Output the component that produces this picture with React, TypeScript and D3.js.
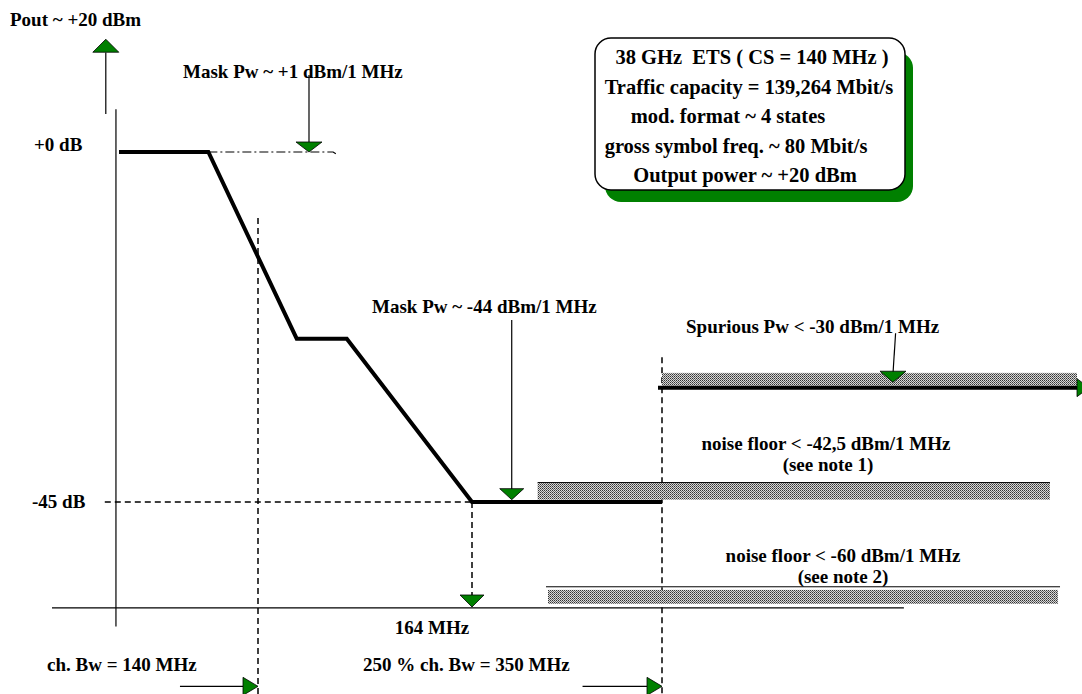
import * as d3 from "d3";

// frequency offset (MHz) -> the drawing is not to scale, so the x scale is piecewise
const xKnotsMHz = [-33, 0, 70, 164, 175, 350];
const levelKnotsDb = [0, -45];

// spectrum mask, relative level in dB
const maskFreq = [0, 45, 87, 109, 164, 175];
const maskLevel = [0, 0, -24, -24, -45, -45];

const spurFreq = [175, 350];
const spurLevel = -30.3;
const spurBandTop = -28.4;

const nf1Freq = [167.8, 338.6];
const nf1Band = [-42.5, -44.7];
const nf2Freq = [168.4, 342];
const nf2Line = -55.9;
const nf2Band = [-56.3, -58.1];

const boxLines = [
  "38 GHz  ETS ( CS = 140 MHz )",
  "Traffic capacity = 139,264 Mbit/s",
  "mod. format ~ 4 states",
  "gross symbol freq. ~ 80 Mbit/s",
  "Output power ~ +20 dBm",
];
const boxLineX = [752, 749, 728, 736, 745];

const W = 1082;
const H = 694;
const GREEN = "#008000";
const FONT = "'Liberation Serif', 'Times New Roman', serif";

export default function App() {
  const x = d3.scaleLinear().domain(xKnotsMHz).range([52, 119, 258, 472, 662, 1077]);
  const y = d3.scaleLinear().domain(levelKnotsDb).range([152, 502]);

  const maskPath = d3
    .line<[number, number]>()
    .x((d) => x(d[0]))
    .y((d) => y(d[1]))(maskFreq.map((f, i) => [f, maskLevel[i]] as [number, number]));

  const down = (cx: number, cy: number, w = 12, h = 11) =>
    `${cx - w},${cy - h} ${cx + w},${cy - h} ${cx},${cy}`;
  const up = (cx: number, cy: number, w = 13, h = 13) =>
    `${cx - w},${cy + h} ${cx + w},${cy + h} ${cx},${cy}`;
  const right = (cx: number, cy: number, w = 15, h = 9) =>
    `${cx - w},${cy - h} ${cx - w},${cy + h} ${cx},${cy}`;

  const txt = {
    fontFamily: FONT,
    fontWeight: 700,
    fontSize: 19,
    fill: "#000",
    whiteSpace: "pre",
  } as const;

  return (
    <svg
      width={W}
      height={H}
      style={{ position: "absolute", left: 0, top: 0, background: "#fff" }}
    >
      <defs>
        <pattern id="hatch" width="2" height="2" patternUnits="userSpaceOnUse">
          <rect width="2" height="2" fill="#d8d8d8" />
          <rect x="0" y="0" width="1" height="1" fill="#333" />
          <rect x="1" y="1" width="1" height="1" fill="#666" />
        </pattern>
      </defs>

      {/* axes */}
      <line x1={x(-1.5)} x2={x(-1.5)} y1={y(5.5)} y2={y(-61)} stroke="#000" strokeWidth={1.2} />
      <line x1={x(-33)} x2={x(277)} y1={y(-58.6)} y2={y(-58.6)} stroke="#000" strokeWidth={1.2} />

      {/* Pout arrow */}
      <line x1={x(-6.5)} x2={x(-6.5)} y1={y(12.8)} y2={y(4.9)} stroke="#000" strokeWidth={1.2} />
      <polygon points={up(x(-6.5), y(14.5))} fill={GREEN} stroke="#000" strokeWidth={0.8} />

      {/* dash-dot mask extension */}
      <path
        d={`M${x(45)},${y(0)}H${x(103)}l3,2`}
        fill="none"
        stroke="#000"
        strokeWidth={1.2}
        strokeDasharray="9 3 2 3"
      />

      {/* dashed guides */}
      <line x1={x(70)} x2={x(70)} y1={y(-8.5)} y2={H} stroke="#000" strokeWidth={1.5} strokeDasharray="6 4" />
      <line x1={x(175)} x2={x(175)} y1={y(-26.4)} y2={H} stroke="#000" strokeWidth={1.5} strokeDasharray="6 4" />
      <line x1={x(-7)} x2={x(164)} y1={y(-45)} y2={y(-45)} stroke="#000" strokeWidth={1.5} strokeDasharray="6 4" />
      <line x1={x(164)} x2={x(164)} y1={y(-45)} y2={y(-57.2)} stroke="#000" strokeWidth={1.5} strokeDasharray="6 4" />
      <polygon points={down(x(164), y(-58.5), 12, 12)} fill={GREEN} stroke="#000" strokeWidth={0.8} />

      {/* noise floor bands */}
      <rect
        x={x(nf1Freq[0])}
        width={x(nf1Freq[1]) - x(nf1Freq[0])}
        y={y(nf1Band[0])}
        height={y(nf1Band[1]) - y(nf1Band[0])}
        fill="url(#hatch)"
      />
      <line x1={x(nf1Freq[0])} x2={x(nf1Freq[1])} y1={y(nf1Band[0])} y2={y(nf1Band[0])} stroke="#000" strokeWidth={1} />
      <rect
        x={x(nf2Freq[0])}
        width={x(nf2Freq[1]) - x(nf2Freq[0])}
        y={y(nf2Band[0])}
        height={y(nf2Band[1]) - y(nf2Band[0])}
        fill="url(#hatch)"
      />
      <line x1={x(nf2Freq[0]) - 2} x2={x(nf2Freq[1]) + 2} y1={y(nf2Line)} y2={y(nf2Line)} stroke="#000" strokeWidth={1} />

      {/* spurious band */}
      <rect
        x={x(spurFreq[0])}
        width={x(spurFreq[1]) - x(spurFreq[0])}
        y={y(spurBandTop)}
        height={y(spurLevel) - y(spurBandTop) - 2}
        fill="url(#hatch)"
      />
      <line x1={x(spurFreq[0]) - 4} x2={x(spurFreq[1])} y1={y(spurLevel)} y2={y(spurLevel)} stroke="#000" strokeWidth={4} />
      <polygon points={right(x(spurFreq[1]) + 12, y(spurLevel), 12, 9)} fill={GREEN} stroke="#000" strokeWidth={0.8} />

      {/* mask */}
      <path d={maskPath ?? ""} fill="none" stroke="#000" strokeWidth={4} strokeLinejoin="miter" />

      {/* mask markers */}
      <line x1={x(92.4)} x2={x(92.4)} y1={y(9.9)} y2={y(1)} stroke="#000" strokeWidth={1.2} />
      <polygon points={down(x(92.4), y(0), 13, 10)} fill={GREEN} stroke="#000" strokeWidth={0.8} />
      <line x1={x(166.3)} x2={x(166.3)} y1={y(-21.6)} y2={y(-43.5)} stroke="#000" strokeWidth={1.2} />
      <polygon points={down(x(166.3), y(-44.7), 12, 11)} fill={GREEN} stroke="#000" strokeWidth={0.8} />
      <line x1={x(273.5)} x2={x(272.4)} y1={y(-23.3)} y2={y(-28.5)} stroke="#000" strokeWidth={1.2} />
      <polygon points={down(x(272.4), y(-29.6), 13, 11)} fill={GREEN} stroke="#000" strokeWidth={0.8} />

      {/* bandwidth arrows */}
      <line x1={x(30.7)} x2={x(70) - 15} y1={y(-68.7)} y2={y(-68.7)} stroke="#000" strokeWidth={1.2} />
      <polygon points={right(x(70), y(-68.7))} fill={GREEN} stroke="#000" strokeWidth={0.8} />
      <line x1={x(170.4)} x2={x(175) - 15} y1={y(-68.7)} y2={y(-68.7)} stroke="#000" strokeWidth={1.2} />
      <polygon points={right(x(175), y(-68.7))} fill={GREEN} stroke="#000" strokeWidth={0.8} />

      {/* info box */}
      <rect x={605} y={52} width={308} height={150} rx={16} fill={GREEN} />
      <rect x={595} y={38} width={310} height={152} rx={16} fill="#fff" stroke="#000" strokeWidth={1.5} />
      {boxLines.map((t, i) => (
        <text key={t} x={boxLineX[i]} y={64 + i * 29.5} textAnchor="middle" style={{ ...txt, fontSize: 20.5 }}>
          {t}
        </text>
      ))}

      {/* labels */}
      <text x={10} y={26} style={txt}>Pout ~ +20 dBm</text>
      <text x={183} y={78} style={txt}>Mask Pw ~ +1 dBm/1 MHz</text>
      <text x={34} y={151} style={txt}>+0 dB</text>
      <text x={32} y={508} style={txt}>-45 dB</text>
      <text x={372} y={313} style={txt}>Mask Pw ~ -44 dBm/1 MHz</text>
      <text x={686} y={333} style={txt}>Spurious Pw &lt; -30 dBm/1 MHz</text>
      <text x={826} y={450} textAnchor="middle" style={txt}>noise floor &lt; -42,5 dBm/1 MHz</text>
      <text x={828} y={471} textAnchor="middle" style={txt}>(see note 1)</text>
      <text x={843} y={562} textAnchor="middle" style={txt}>noise floor &lt; -60 dBm/1 MHz</text>
      <text x={843} y={583} textAnchor="middle" style={txt}>(see note 2)</text>
      <text x={432} y={634} textAnchor="middle" style={txt}>164 MHz</text>
      <text x={47} y={671} style={txt}>ch. Bw = 140 MHz</text>
      <text x={363} y={671} style={txt}>250 % ch. Bw = 350 MHz</text>
    </svg>
  );
}
